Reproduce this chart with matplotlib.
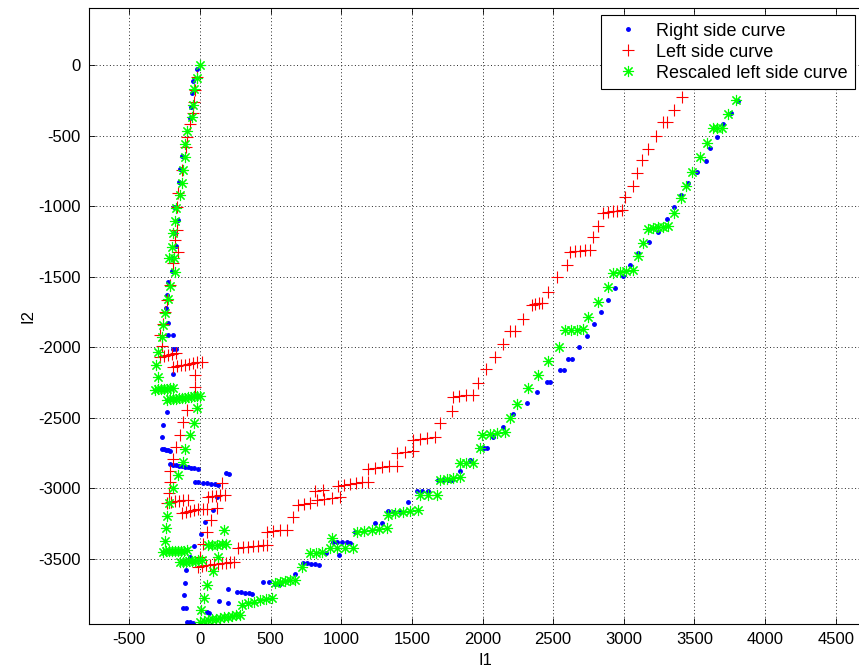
import matplotlib
matplotlib.use('Agg')
import matplotlib.pyplot as plt  # Plotting functions
import numpy as np  # Array representation

# Right side curve (blue dots)
right_x = [-21, -50, -57, -64, -71, -127, -142, -149, -184, -156, -184, -170,
           -191, -198, -226, -234, -241, -226, -226, -191, -191, -170, -191,
           -234, -262, -269,
           -269, -255, -240, -226, -212,
           -212, -191, -170, -148, -127, -106, -85, -64, -42, -14,
           184, 205,
           -35, -14, 21, 50, 78, 106, 127,
           120, 92, 35, 7, -42, -71, -99, -106, -113, -120, -99,
           -92, -71, -50,
           50, 64, 134, 198, 198, 262, 290, 318, 347, 368, 446, 488, 531, 566,
           672, 729, 757, 785, 814, 842, 892, 941, 970, 1005, 1040, 1062, 984,
           1097, 1238, 1288, 1330, 1373, 1415, 1472, 1536, 1571, 1614, 1684,
           1720, 1755, 1783, 1840, 1911, 1982, 2010, 2031, 2074, 2144, 2215,
           2314, 2385, 2456, 2480, 2550, 2575, 2605, 2630, 2682, 2739, 2788,
           2838, 2887, 2937, 2994, 3043, 3100, 3178, 3241, 3305, 3355, 3404,
           3454, 3517, 3581, 3609, 3659, 3701, 3758, 3807]
right_y = [-28, -113, -198, -297, -375, -644, -737, -829, -1006, -1098, -1190,
           -1282, -1367, -1459, -1537, -1629, -1721, -1827, -1912, -1912, -2011,
           -2011, -2188, -2457, -2550, -2635,
           -2720, -2723, -2727, -2731, -2735,
           -2830, -2833, -2836, -2840, -2843, -2847, -2850, -2853, -2857, -2860,
           -2890, -2897,
           -2953, -2957, -2960, -2964, -2968, -2971, -2975,
           -3060, -3152, -3237, -3322, -3407, -3485, -3577, -3669, -3754, -3846,
           -3846,
           -3945, -3948, -3952,
           -3874, -3881, -3796, -3810, -3711, -3732, -3735, -3739, -3742, -3746,
           -3661, -3661, -3676, -3680, -3605, -3527, -3530, -3534, -3538, -3541,
           -3456, -3378, -3380, -3382, -3384, -3385, -3470, -3307, -3244, -3244,
           -3160, -3165, -3170, -3095, -3017, -3017, -3017, -2939, -2939, -2939,
           -2939, -2875, -2797, -2712, -2712, -2712, -2635, -2564, -2472, -2394,
           -2316, -2245, -2245, -2160, -2160, -2082, -2082, -1997, -1919, -1834,
           -1749, -1664, -1579, -1494, -1416, -1331, -1254, -1183, -1091, -1006,
           -921, -836, -758, -680, -588, -510, -418, -340, -255]

# Left side curve (red plus)
left_x = [-21, -35, -42, -50, -71, -92, -99, -127, -156, -163, -163, -177,
          -156, -191, -212, -234, -248, -262, -283, -269,
          -283, -255, -226, -198, -170,
          -191, -163, -134, -106, -78, -50, -21, 14,
          -35, -35, -92, -120, -142, -170, -191, -212, -212, -219,
          -234, -205, -177, -148, -120, -85,
          156, 57, 85, 113, 141, 177,
          120, 78, -127, -99, -71, -42, -14, 21, 50,
          50, 21, 0,
          -14, 14, 42, 71, 99, 127, 156, 184, 212, 241,
          269, 304, 339, 375, 410, 445, 474,
          474, 516, 566, 616,
          658, 694, 736, 778, 814, 870,
          828, 880, 935, 990,
          977, 1020, 1062, 1104, 1147, 1189,
          1189, 1240, 1290, 1340, 1394,
          1394, 1450, 1507,
          1507, 1560, 1610, 1663,
          1698, 1783,
          1790, 1837, 1885, 1932,
          1967, 2024, 2088, 2144, 2194, 2229, 2286,
          2350, 2373, 2397, 2420,
          2463, 2527, 2597,
          2619, 2654, 2690, 2725, 2760,
          2781, 2817,
          2852, 2886, 2920, 2953, 2987,
          3008, 3064, 3093, 3128, 3171, 3227, 3277, 3305, 3355, 3411]
left_y = [-85, -177, -262, -340, -418, -510, -581, -744, -906, -1006, -1169,
          -1239, -1324, -1402, -1558, -1664, -1749, -1834, -1912, -1990,
          -2068, -2061, -2054, -2047, -2040,
          -2139, -2134, -2129, -2124, -2118, -2113, -2108, -2103,
          -2195, -2280, -2443, -2528, -2620, -2705, -2790, -2875, -2953, -3031,
          -3102, -3097, -3092, -3087, -3083, -3081,
          -2960, -3060, -3056, -3052, -3048, -3045,
          -3137, -3222, -3173, -3167, -3161, -3155, -3150, -3147, -3144,
          -3307, -3392, -3485,
          -3555, -3551, -3547, -3543, -3539, -3535, -3531, -3527, -3523, -3520,
          -3421, -3418, -3414, -3411, -3407, -3404, -3400,
          -3307, -3302, -3298, -3293,
          -3201, -3116, -3109, -3102, -3017, -3010,
          -3081, -3074, -3067, -3060,
          -2982, -2976, -2970, -2965, -2959, -2953,
          -2861, -2856, -2850, -2845, -2840,
          -2748, -2741, -2734,
          -2656, -2649, -2642, -2635,
          -2535, -2450,
          -2351, -2346, -2342, -2337,
          -2252, -2153, -2068, -1976, -1884, -1884, -1799,
          -1700, -1695, -1690, -1686,
          -1608, -1501, -1416,
          -1324, -1320, -1317, -1313, -1310,
          -1218, -1140,
          -1048, -1043, -1038, -1032, -1027,
          -935, -857, -765, -673, -595, -503, -404, -404, -319, -227]

# Rescaled left side curve (green asterisks)
rescaled_x = [0, -21, -42, -50, -57, -92, -106, -106, -120, -127, -142, -170,
              -177, -191, -198, -219, -184, -177, -212, -226, -248, -262, -269,
              -297, -311, -297,
              -318, -297, -276, -255, -234, -212, -191,
              -234, -212, -191, -170, -148, -127, -106, -85, -64, -42, -21, 0,
              -21, -42, -71, -106, -120, -156, -191, -219, -234, -241, -248,
              -262, -241, -219, -198, -177, -156, -134, -113, -92,
              -142, -120, -99, -78, -57, -35, -14, 14,
              92, 50, 28, 7,
              0, 28, 57, 85, 113, 142, 170, 198, 226, 255, 283,
              170, 57, 85, 120, 156, 184, 127,
              297, 340, 382, 425, 467, 510,
              531, 566, 602, 637, 672,
              725, 778, 820, 863, 934,
              920, 970, 1026, 1083,
              1111, 1164, 1217, 1270, 1323,
              1330, 1383, 1436, 1490, 1543,
              1557, 1617, 1677,
              1698, 1745, 1793, 1840,
              1840, 1886, 1932,
              1982,
              1996, 2050, 2105, 2159,
              2194, 2243, 2321, 2392, 2463, 2541,
              2583, 2625, 2668, 2711,
              2746, 2817, 2887,
              2923, 2970, 3017, 3064,
              3100, 3135,
              3171, 3206, 3241, 3277, 3312,
              3355, 3404, 3439, 3482, 3539, 3588,
              3631, 3662, 3694,
              3737, 3793]
rescaled_y = [0, -92, -170, -283, -368, -467, -559, -652, -744, -836, -921,
              -1013, -1105, -1190, -1289, -1367, -1367, -1466, -1565, -1657,
              -1756, -1841, -1926, -2033, -2125, -2210,
              -2302, -2299, -2297, -2295, -2293, -2291, -2288,
              -2373, -2370, -2368, -2365, -2362, -2360, -2357, -2354, -2351,
              -2349, -2346, -2344,
              -2429, -2535, -2620, -2720, -2812, -2904, -2996, -3102, -3194,
              -3279, -3371,
              -3449, -3448, -3447, -3446, -3445, -3444, -3443, -3442, -3441,
              -3525, -3523, -3520, -3518, -3515, -3513, -3510, -3507,
              -3584, -3683, -3775, -3860,
              -3945, -3940, -3935, -3930, -3925, -3920, -3915, -3910, -3905,
              -3900, -3895,
              -3293, -3403, -3402, -3400, -3398, -3396, -3485,
              -3824, -3815, -3805, -3795, -3785, -3775,
              -3669, -3662, -3655, -3650, -3647,
              -3560, -3460, -3456, -3452, -3350,
              -3421, -3421, -3421, -3421,
              -3307, -3300, -3293, -3286, -3279,
              -3187, -3178, -3170, -3161, -3152,
              -3045, -3045, -3045,
              -2939, -2932, -2925, -2918,
              -2819, -2819, -2819,
              -2712,
              -2620, -2613, -2606, -2599,
              -2500, -2401, -2288, -2195, -2096, -1997,
              -1880, -1877, -1875, -1872,
              -1785, -1678, -1572,
              -1473, -1466, -1459, -1452,
              -1353, -1261,
              -1162, -1156, -1151, -1145, -1140,
              -1048, -942, -857, -758, -652, -552,
              -446, -446, -446,
              -347, -248]

x_ticks = [-500, 0, 500, 1000, 1500, 2000, 2500, 3000, 3500, 4000, 4500]
y_ticks = [0, -500, -1000, -1500, -2000, -2500, -3000, -3500]
labels = ['Right side curve', 'Left side curve', 'Rescaled left side curve']

W, H = 859, 668


def main() -> None:
    plt.rcParams['font.family'] = ['Liberation Sans', 'DejaVu Sans']
    plt.rcParams['axes.unicode_minus'] = False

    fig = plt.figure(figsize=(W / 100, H / 100), dpi=100)
    # axes box runs past the right edge of the picture, as in the original
    left, right, top, bottom = 89, 882, 8, 624
    ax = fig.add_axes([left / W, 1 - bottom / H, (right - left) / W, (bottom - top) / H])

    ax.plot(right_x, right_y, '.', color=(0, 0, 1), markersize=5, label=labels[0])
    ax.plot(left_x, left_y, '+', color=(1, 0, 0), markersize=8, mew=0.8,
            label=labels[1])
    ax.plot(rescaled_x, rescaled_y, marker=(8, 2, 0), linestyle='none',
            color=(0, 1, 0), markersize=8, mew=0.8, label=labels[2])

    # equal scaling: about 0.1413 px per unit on both axes
    ax.set_xlim(-785, 4827)
    ax.set_ylim(-3962, 404)
    ax.set_xticks(x_ticks)
    ax.set_yticks(y_ticks)
    ax.tick_params(direction='in', top=True, right=True, length=4.5,
                   width=0.6, labelsize=12, pad=6)
    for s in ax.spines.values():
        s.set_linewidth(0.8)
    ax.grid(True, color='0.15', linestyle=(0, (1, 2.5)), linewidth=0.7)

    ax.set_xlabel('I1', fontsize=12, labelpad=4)
    ax.set_ylabel('I2', fontsize=12, labelpad=2)

    leg = ax.legend(loc='upper left', bbox_to_anchor=(601 / W, 1 - 15 / H),
                    bbox_transform=fig.transFigure, borderaxespad=0,
                    fontsize=13, fancybox=False, framealpha=1,
                    edgecolor='black', handlelength=2.2, handletextpad=0.4,
                    labelspacing=0.22, borderpad=0.42, numpoints=1)
    leg.get_frame().set_linewidth(0.8)

    fig.savefig('out.png', dpi=100)


if __name__ == '__main__':
    main()
